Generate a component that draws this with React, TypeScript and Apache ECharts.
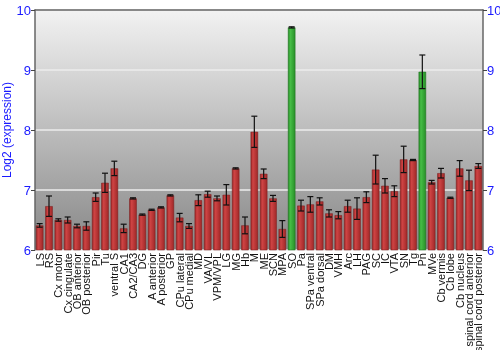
import React, { useEffect, useRef } from "react";
import * as echarts from "echarts";

const categories = [
  "LS", "RS", "Cx motor", "Cx cingulate", "OB anterior", "OB posterior", "Pir", "Tu",
  "ventral S", "CA1", "CA2/CA3", "DG", "A anterior", "A posterior", "GP", "CPu lateral",
  "CPu medial", "MD", "VA/VL", "VPM/VPL", "LG", "MG", "Hb", "M", "ME", "SCN", "MPA", "SO",
  "Pa", "SPa ventral", "SPa dorsal", "DM", "VMH", "Arc", "LH", "PAG", "SC", "IC", "VTA",
  "SN", "Tg", "Pn", "MVe", "Cb vermis", "Cb lobe", "Cb nucleus", "spinal cord anterior",
  "spinal cord posterior",
];

const values = [
  6.41, 6.73, 6.5, 6.5, 6.4, 6.4, 6.88, 7.12,
  7.36, 6.36, 6.86, 6.59, 6.67, 6.71, 6.91, 6.54,
  6.4, 6.83, 6.93, 6.86, 6.92, 7.36, 6.41, 7.97, 7.27, 6.86, 6.35, 9.71,
  6.74, 6.76, 6.81, 6.61, 6.58, 6.73, 6.69, 6.88, 7.34, 7.07, 6.98,
  7.51, 7.5, 8.97, 7.13, 7.28, 6.87, 7.36, 7.16,
  7.4,
];

const errors = [
  0.03, 0.17, 0.02, 0.05, 0.03, 0.07, 0.07, 0.16,
  0.12, 0.07, 0.01, 0.01, 0.01, 0.01, 0.01, 0.07,
  0.04, 0.09, 0.05, 0.04, 0.17, 0.01, 0.14, 0.26, 0.08, 0.05, 0.14, 0.01,
  0.09, 0.13, 0.06, 0.06, 0.06, 0.1, 0.18, 0.09, 0.24, 0.12, 0.09,
  0.22, 0.01, 0.28, 0.03, 0.08, 0.01, 0.13, 0.17,
  0.04,
];

const highlighted = ["SO", "Pn"];

const yTicks = [6, 7, 8, 9, 10];

const redGrad = new echarts.graphic.LinearGradient(0, 0, 1, 0, [
  { offset: 0, color: "#9c2626" },
  { offset: 0.3, color: "#cf4444" },
  { offset: 1, color: "#a02828" },
]);
const greenGrad = new echarts.graphic.LinearGradient(0, 0, 1, 0, [
  { offset: 0, color: "#268a26" },
  { offset: 0.3, color: "#46be46" },
  { offset: 1, color: "#289028" },
]);

export default function App() {
  const ref = useRef<HTMLDivElement>(null);
  useEffect(() => {
    if (!ref.current) return;
    const chart = echarts.init(ref.current, undefined, { renderer: "svg" });
    const blue = "#1a1aff";
    const font = "Liberation Sans";
    chart.setOption({
      animation: false,
      textStyle: { fontFamily: font },
      grid: {
        left: 35,
        right: 17,
        top: 10,
        bottom: 100,
        containLabel: false,
        outerBoundsMode: "none",
        show: true,
        borderWidth: 0,
        backgroundColor: new echarts.graphic.LinearGradient(0, 0, 0, 1, [
          { offset: 0, color: "#f2f2f2" },
          { offset: 1, color: "#878787" },
        ]),
      },
      xAxis: [
        {
          type: "category",
          data: categories,
          axisLine: { show: false },
          axisTick: { show: false },
          axisLabel: {
            interval: 0,
            rotate: 90,
            fontSize: 11,
            color: "#111",
            margin: 3,
            fontFamily: font,
          },
        },
        {
          type: "category",
          position: "top",
          data: categories,
          axisLine: { show: true, lineStyle: { color: "#666", width: 1.5 } },
          axisTick: { show: false },
          axisLabel: { show: false },
        },
      ],
      yAxis: [
        {
          type: "value",
          min: 6,
          max: 10,
          interval: 1,
          name: "Log2 (expression)",
          nameLocation: "middle",
          nameGap: 22,
          nameMoveOverlap: false,
          nameTextStyle: { color: blue, fontSize: 12, fontFamily: font },
          axisLine: { show: true, lineStyle: { color: "#666", width: 1.5 } },
          axisTick: { show: true, length: 4, lineStyle: { color: "#444" } },
          axisLabel: {
            color: blue,
            fontSize: 13,
            margin: 4,
            fontFamily: font,
            formatter: (v: number) => (yTicks.includes(v) ? String(v) : ""),
          },
          splitLine: { show: true, lineStyle: { color: "#ececec", width: 1.5 } },
        },
        {
          type: "value",
          min: 6,
          max: 10,
          interval: 1,
          position: "right",
          axisLine: { show: true, lineStyle: { color: "#666", width: 1.5 } },
          axisTick: { show: true, length: 4, lineStyle: { color: "#444" } },
          axisLabel: { color: blue, fontSize: 13, margin: 4, fontFamily: font },
          splitLine: { show: false },
        },
      ],
      series: [
        {
          type: "bar",
          barWidth: "80%",
          data: values.map((v, i) => ({
            value: v,
            itemStyle: {
              color: highlighted.includes(categories[i]) ? greenGrad : redGrad,
              borderColor: highlighted.includes(categories[i]) ? "#1e6e1e" : "#7a1c1c",
              borderWidth: 0.5,
            },
          })),
        },
        {
          type: "custom",
          z: 10,
          data: values.map((v, i) => [i, v - errors[i], v + errors[i]]),
          renderItem: (params: any, api: any) => {
            const x = api.value(0);
            const lo = api.coord([x, api.value(1)]);
            const hi = api.coord([x, api.value(2)]);
            const half = 3;
            const style = { stroke: "#111", lineWidth: 1.2 };
            return {
              type: "group",
              children: [
                { type: "line", shape: { x1: lo[0], y1: lo[1], x2: hi[0], y2: hi[1] }, style },
                { type: "line", shape: { x1: lo[0] - half, y1: lo[1], x2: lo[0] + half, y2: lo[1] }, style },
                { type: "line", shape: { x1: hi[0] - half, y1: hi[1], x2: hi[0] + half, y2: hi[1] }, style },
              ],
            };
          },
        },
      ],
    });
    return () => chart.dispose();
  }, []);
  return (
    <div
      ref={ref}
      style={{ position: "fixed", left: 0, top: 0, width: 500, height: 350 }}
    />
  );
}
